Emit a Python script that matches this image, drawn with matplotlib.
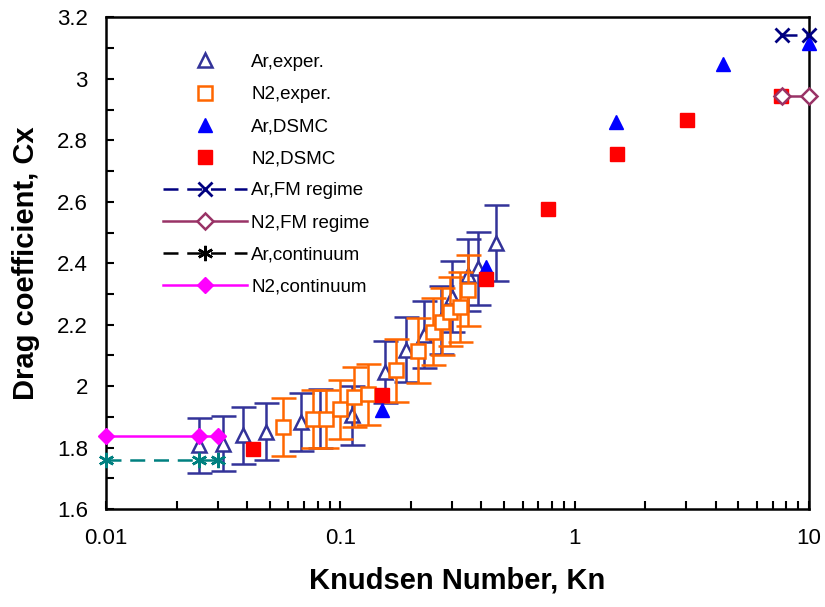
import numpy as np
import matplotlib.pyplot as plt
from matplotlib.lines import Line2D
from matplotlib.ticker import FixedLocator, FuncFormatter, MultipleLocator

plt.rcParams['font.family'] = ['Liberation Sans', 'DejaVu Sans']

# experimental data (Ar, triangles)
ar_exp_kn = [0.025, 0.0315, 0.0385, 0.048, 0.068, 0.082, 0.112, 0.155, 0.19, 0.228, 0.268, 0.30, 0.351, 0.387, 0.464]
ar_exp_cx = [1.807, 1.813, 1.840, 1.851, 1.883, 1.895, 1.905, 2.046, 2.118, 2.168, 2.215, 2.291, 2.361, 2.383, 2.465]
ar_exp_err = [0.090, 0.090, 0.092, 0.093, 0.094, 0.095, 0.095, 0.102, 0.106, 0.108, 0.111, 0.115, 0.118, 0.119, 0.123]

# experimental data (N2, squares)
n2_exp_kn = [0.057, 0.0766, 0.0873, 0.0995, 0.114, 0.131, 0.1725, 0.215, 0.249, 0.272, 0.295, 0.323, 0.351]
n2_exp_cx = [1.867, 1.894, 1.894, 1.925, 1.965, 1.973, 2.052, 2.115, 2.177, 2.210, 2.242, 2.258, 2.312]
n2_exp_err = [0.093, 0.095, 0.095, 0.096, 0.098, 0.099, 0.103, 0.106, 0.109, 0.110, 0.112, 0.113, 0.116]

# DSMC
ar_dsmc_kn = [0.15, 0.42, 1.5, 4.28, 10]
ar_dsmc_cx = [1.921, 2.388, 2.861, 3.048, 3.116]
n2_dsmc_kn = [0.0425, 0.15, 0.42, 0.769, 1.515, 3.03, 7.6]
n2_dsmc_cx = [1.797, 1.970, 2.350, 2.576, 2.755, 2.866, 2.945]

# free molecular limit
ar_fm_kn = [7.7, 10]
ar_fm_cx = [3.143, 3.143]
n2_fm_kn = [7.7, 10]
n2_fm_cx = [2.945, 2.945]

# continuum limit
ar_cont_kn = [0.01, 0.025, 0.03]
ar_cont_cx = [1.76, 1.76, 1.76]
n2_cont_kn = [0.01, 0.025, 0.03]
n2_cont_cx = [1.837, 1.837, 1.837]

fig = plt.figure(figsize=(8.25, 6.07), dpi=100)
ax = fig.add_axes([0.1285, 0.1614, 0.852, 0.8098])

navy_exp = '#333399'
orange = '#FF6600'
teal = '#008080'
dash = (0, (6, 3.5))

ar_exp = ax.errorbar(ar_exp_kn, ar_exp_cx, yerr=ar_exp_err, fmt='^', color=navy_exp, mfc='white',
                     mec=navy_exp, ms=10.5, mew=1.8, elinewidth=1.8, capsize=9, capthick=1.8,
                     label='Ar,exper.', zorder=3)
n2_exp = ax.errorbar(n2_exp_kn, n2_exp_cx, yerr=n2_exp_err, fmt='s', color=orange, mfc='white',
                     mec=orange, ms=10, mew=1.8, elinewidth=1.8, capsize=9, capthick=1.8,
                     label='N2,exper.', zorder=4)
ar_dsmc, = ax.plot(ar_dsmc_kn, ar_dsmc_cx, '^', color='#0000FF', ms=10.5, ls='none',
                   label='Ar,DSMC', zorder=5, clip_on=False)
n2_dsmc, = ax.plot(n2_dsmc_kn, n2_dsmc_cx, 's', color='#FF0000', ms=10.5, ls='none',
                   label='N2,DSMC', zorder=5, clip_on=False)
ar_fm, = ax.plot(ar_fm_kn, ar_fm_cx, color='#000080', ls=dash, lw=1.8, marker='x',
                 ms=10, mew=2, label='Ar,FM regime', zorder=6, clip_on=False)
n2_fm, = ax.plot(n2_fm_kn, n2_fm_cx, color='#993366', lw=1.8, marker='D', ms=8, mfc='white',
                 mew=1.8, label='N2,FM regime', zorder=6, clip_on=False)
ar_cont, = ax.plot(ar_cont_kn, ar_cont_cx, color=teal, ls=dash, lw=1.8, marker=(6, 2, 0),
                   ms=11, mew=1.8, label='Ar,continuum', zorder=6, clip_on=False)
n2_cont, = ax.plot(n2_cont_kn, n2_cont_cx, color='#FF00FF', lw=1.8, marker='D', ms=8,
                   label='N2,continuum', zorder=6, clip_on=False)

ax.set_xscale('log')
ax.set_xlim(0.01, 10)
ax.set_ylim(1.6, 3.2)

ax.xaxis.set_major_locator(FixedLocator([0.01, 0.1, 1, 10]))
ax.xaxis.set_major_formatter(FuncFormatter(lambda v, p: '%g' % v))
ax.yaxis.set_major_locator(MultipleLocator(0.2))
ax.yaxis.set_minor_locator(MultipleLocator(0.1))
ax.yaxis.set_major_formatter(FuncFormatter(lambda v, p: '%g' % round(v, 1)))

ax.tick_params(which='both', direction='in', length=6, width=1.5, labelsize=16,
               top=False, right=False)
ax.tick_params(axis='y', which='both', pad=13)
ax.tick_params(axis='x', which='both', pad=14)
for s in ax.spines.values():
    s.set_linewidth(1.8)

ax.set_xlabel('Knudsen Number, Kn', fontsize=21, fontweight='bold', labelpad=12)
ax.set_ylabel('Drag coefficient, Cx', fontsize=21, fontweight='bold', labelpad=12)

# legend: continuum Ar line shown in black there
ar_cont_leg = Line2D([], [], color='black', ls=dash, lw=1.8, marker=(6, 2, 0), ms=11, mew=1.8)
handles = [ar_exp.lines[0], n2_exp.lines[0], ar_dsmc, n2_dsmc, ar_fm, n2_fm, ar_cont_leg, n2_cont]
labels = ['Ar,exper.', 'N2,exper.', 'Ar,DSMC', 'N2,DSMC', 'Ar,FM regime', 'N2,FM regime',
          'Ar,continuum', 'N2,continuum']
ax.legend(handles, labels, loc='upper left', bbox_to_anchor=(0.081, 0.926), frameon=False,
          fontsize=13.5, numpoints=1, handlelength=4.5, handletextpad=0.2, labelspacing=0.8,
          borderpad=0, borderaxespad=0)

fig.savefig('out.png', dpi=100)
